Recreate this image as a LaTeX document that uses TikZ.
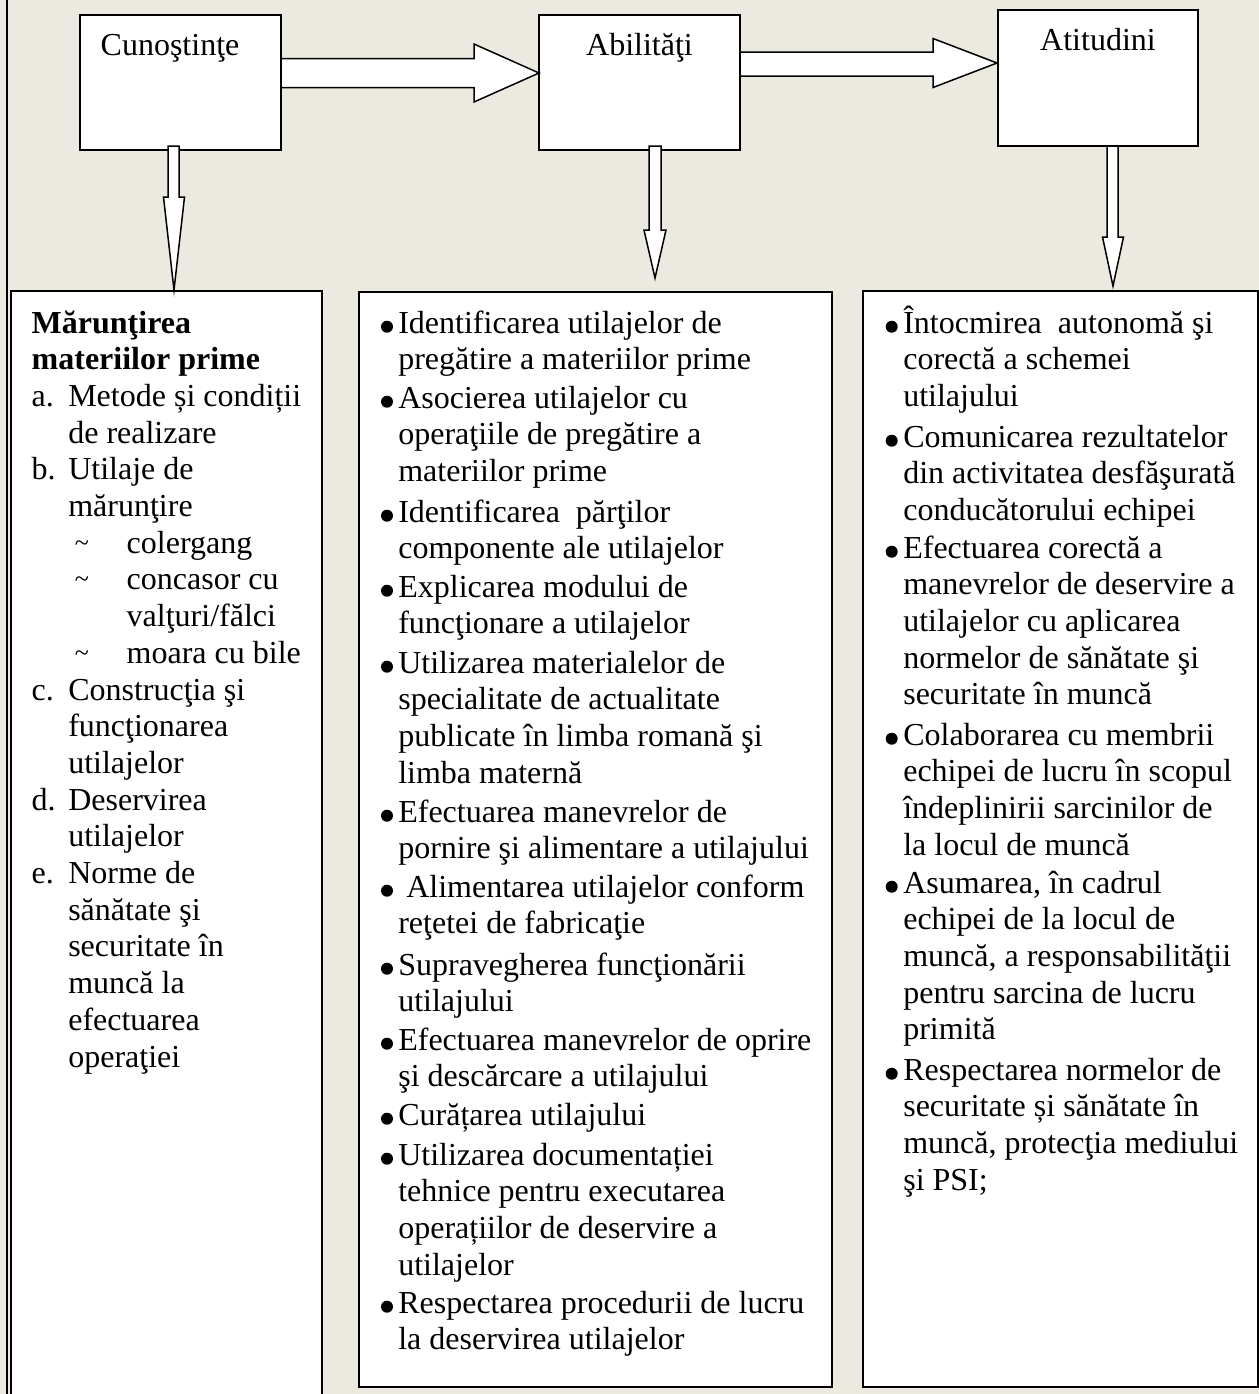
\documentclass[tikz,border=0pt]{standalone}
\usepackage{fontspec}
\setmainfont{Liberation Serif}
\usetikzlibrary{calc}
\definecolor{bgbeige}{RGB}{236,233,224}
\tikzset{
  box/.style={draw=black, line width=0.75pt, fill=white, inner sep=0pt, outer sep=0pt},
  blockarrow/.style={draw=black, line width=0.75pt, fill=white, line join=miter},
  txt/.style={anchor=base west, inner sep=0pt, outer sep=0pt, font=\fontsize{16}{18.35}\selectfont},
  btxt/.style={anchor=base west, inner sep=0pt, outer sep=0pt, font=\bfseries\fontsize{16}{18.35}\selectfont},
  ctxt/.style={anchor=base, inner sep=0pt, outer sep=0pt, font=\fontsize{16}{18.35}\selectfont},
  tld/.style={anchor=base west, inner sep=0pt, outer sep=0pt, font=\fontsize{13}{14}\selectfont},
  bul/.style={fill=black},
}
\newcommand\lns[1]{\begin{tabular}[t]{@{}l@{}}#1\end{tabular}}
\begin{document}
\begin{tikzpicture}[x=0.5pt,y=-0.5pt]
\useasboundingbox (0,0) rectangle (1259,1394);
\fill[bgbeige] (0,0) rectangle (1259,1394);
\clip (0,0) rectangle (1259,1394);
\draw[line width=0.75pt] (7,-5) -- (7,1400);

% top boxes
\node[box, minimum width=100.5pt, minimum height=67.5pt] (cun) at (180.5,82.5) {};
\node[box, minimum width=100.5pt, minimum height=67.5pt] (abi) at (639.5,82.5) {};
\node[box, minimum width=100pt, minimum height=68pt] (ati) at (1098,78) {};

% bottom boxes
\node[box, minimum width=155.5pt, minimum height=554.5pt] (kb) at (166.5,845.5) {};
\node[box, minimum width=236.5pt, minimum height=547.5pt] (ab) at (595.5,839.5) {};
\node[box, minimum width=197.5pt, minimum height=548pt] (tb) at (1060.5,839) {};

% horizontal block arrows
\coordinate (a1t) at ($(abi.west)+(0,-9.5)$);
\draw[blockarrow] ($(cun.east)+(0,-24)$) -- ($(a1t)+(-65,-14.5)$) -- ($(a1t)+(-65,-29)$) -- (a1t)
  -- ($(a1t)+(-65,29)$) -- ($(a1t)+(-65,14.5)$) -- ($(cun.east)+(0,5)$) -- cycle;
\coordinate (a2t) at ($(ati.west)+(-1,-15)$);
\draw[blockarrow] ($(abi.east)+(0,-30.5)$) -- ($(a2t)+(-64,-11)$) -- ($(a2t)+(-64,-24.5)$) -- (a2t)
  -- ($(a2t)+(-64,24.5)$) -- ($(a2t)+(-64,13)$) -- ($(abi.east)+(0,-6.5)$) -- cycle;

% vertical block arrows
\coordinate (d1t) at ($(kb.north)+(7.5,-1)$);
\draw[blockarrow] ($(cun.south)+(-12.5,-4)$) -- ($(d1t)+(-6,-93)$) -- ($(d1t)+(-10.5,-93)$) -- (d1t)
  -- ($(d1t)+(10.5,-93)$) -- ($(d1t)+(5,-93)$) -- ($(cun.south)+(-1.5,-4)$) -- cycle;
\coordinate (d2t) at ($(abi.south)+(15.5,128)$);
\draw[blockarrow] ($(abi.south)+(9.5,-4)$) -- ($(d2t)+(-6,-48)$) -- ($(d2t)+(-11,-48)$) -- (d2t)
  -- ($(d2t)+(11,-48)$) -- ($(d2t)+(6,-48)$) -- ($(abi.south)+(21.5,-4)$) -- cycle;
\coordinate (d3t) at ($(ati.south)+(15,140)$);
\draw[blockarrow] ($(ati.south)+(9,0)$) -- ($(d3t)+(-6,-49)$) -- ($(d3t)+(-10.5,-49)$) -- (d3t)
  -- ($(d3t)+(10.5,-49)$) -- ($(d3t)+(5,-49)$) -- ($(ati.south)+(20,0)$) -- cycle;

% titles
\node[txt] (tcun) at (100.7,55) {Cunoştinţe};
\node[ctxt] (tabi) at (639.5,55) {Abilităţi};
\node[ctxt] (tati) at (1098,50) {Atitudini};

% box 1
\node[btxt] (k0) at (31.7,333) {\lns{Mărunţirea\\materiilor prime}};
\node[txt] (kla) at (31.7,406.4) {a.};
\node[txt] (kta) at (68.3,406.4) {\lns{Metode și condiții\\de realizare}};
\node[txt] (klb) at (31.7,479.8) {b.};
\node[txt] (ktb) at (68.3,479.8) {\lns{Utilaje de\\mărunţire}};
\node[tld] (kt1) at (75,551.2) {\textasciitilde};
\node[txt] (ks1) at (126.7,553.2) {colergang};
\node[tld] (kt2) at (75,587.9) {\textasciitilde};
\node[txt] (ks2) at (126.7,589.9) {\lns{concasor cu\\valţuri/fălci}};
\node[tld] (kt3) at (75,661.3) {\textasciitilde};
\node[txt] (ks3) at (126.7,663.3) {moara cu bile};
\node[txt] (klc) at (31.7,700) {c.};
\node[txt] (ktc) at (68.3,700) {\lns{Construcţia şi\\funcţionarea\\utilajelor}};
\node[txt] (kld) at (31.7,810.1) {d.};
\node[txt] (ktd) at (68.3,810.1) {\lns{Deservirea\\utilajelor}};
\node[txt] (kle) at (31.7,883.5) {e.};
\node[txt] (kte) at (68.3,883.5) {\lns{Norme de\\sănătate şi\\securitate în\\muncă la\\efectuarea\\operaţiei}};

% box 2
\foreach \yy in {333,408,522,597,673,822,897,975,1050,1125,1165,1313}
  \fill[bul] (387,\yy-6.3) circle[radius=3pt];
\node[txt] (b1) at (398.3,333) {\lns{Identificarea utilajelor de\\pregătire a materiilor prime}};
\node[txt] (b2) at (398.3,408) {\lns{Asocierea utilajelor cu\\operaţiile de pregătire a\\materiilor prime}};
\node[txt] (b3) at (398.3,522) {\lns{Identificarea\ \ părţilor\\componente ale utilajelor}};
\node[txt] (b4) at (398.3,597) {\lns{Explicarea modului de\\funcţionare a utilajelor}};
\node[txt] (b5) at (398.3,673) {\lns{Utilizarea materialelor de\\specialitate de actualitate\\publicate în limba romană şi\\limba maternă}};
\node[txt] (b6) at (398.3,822) {\lns{Efectuarea manevrelor de\\pornire şi alimentare a utilajului}};
\node[txt] (b7) at (398.3,897) {\lns{\ Alimentarea utilajelor conform\\reţetei de fabricaţie}};
\node[txt] (b8) at (398.3,975) {\lns{Supravegherea funcţionării\\utilajului}};
\node[txt] (b9) at (398.3,1050) {\lns{Efectuarea manevrelor de oprire\\şi descărcare a utilajului}};
\node[txt] (b10) at (398.3,1125) {Curățarea utilajului};
\node[txt] (b11) at (398.3,1165) {\lns{Utilizarea documentației\\tehnice pentru executarea\\operațiilor de deservire a\\utilajelor}};
\node[txt] (b12) at (398.3,1313) {\lns{Respectarea procedurii de lucru\\la deservirea utilajelor}};

% box 3
\foreach \yy in {333,447,558,745,893,1080}
  \fill[bul] (891.7,\yy-6.3) circle[radius=3pt];
\node[txt] (c1) at (903.3,333) {\lns{Întocmirea\ \ autonomă şi\\corectă a schemei\\utilajului}};
\node[txt] (c2) at (903.3,447) {\lns{Comunicarea rezultatelor\\din activitatea desfăşurată\\conducătorului echipei}};
\node[txt] (c3) at (903.3,558) {\lns{Efectuarea corectă a\\manevrelor de deservire a\\utilajelor cu aplicarea\\normelor de sănătate şi\\securitate în muncă}};
\node[txt] (c4) at (903.3,745) {\lns{Colaborarea cu membrii\\echipei de lucru în scopul\\îndeplinirii sarcinilor de\\la locul de muncă}};
\node[txt] (c5) at (903.3,893) {\lns{Asumarea, în cadrul\\echipei de la locul de\\muncă, a responsabilităţii\\pentru sarcina de lucru\\primită}};
\node[txt] (c6) at (903.3,1080) {\lns{Respectarea normelor de\\securitate și sănătate în\\muncă, protecţia mediului\\şi PSI;}};
\end{tikzpicture}
\end{document}
